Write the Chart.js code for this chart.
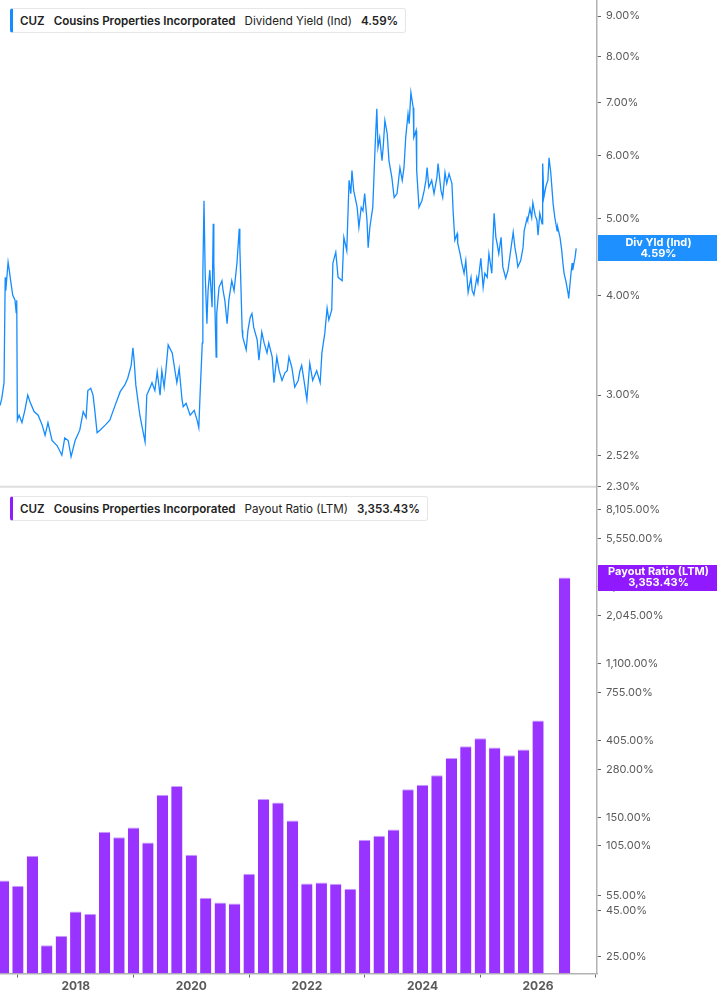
<!DOCTYPE html>
<html>
<head>
<meta charset="utf-8">
<script src="https://cdn.jsdelivr.net/npm/chart.js@4.4.1/dist/chart.umd.min.js"></script>
<style>
html,body{margin:0;padding:0;background:#fff;}
#wrap{position:relative;width:717px;height:1005px;overflow:hidden;background:#fff;}
#c{position:absolute;left:0;top:0;}
.legend{position:absolute;left:10px;height:25px;box-sizing:border-box;border:1px solid #e6e6e6;border-left:3px solid #148cff;border-radius:3px;background:#fff;font-family:Inter,'Noto Sans',sans-serif;font-size:11.6px;color:#222;display:flex;align-items:center;padding:0 7px 0 7px;white-space:nowrap;}
.legend span{margin-right:9px;}
.legend span:last-child{margin-right:0;}
.b{font-weight:600;}
</style>
</head>
<body>
<div id="wrap">
  <canvas id="c" width="717" height="1005" style="width:717px;height:1005px"></canvas>
  <div class="legend" id="legTop" style="top:8px;border-left-color:#148cff"></div>
  <div class="legend" id="legBot" style="top:496px;border-left-color:#8f1cff"></div>
</div>
<script>
// ---- texts ----
const ticker = 'CUZ';
const company = 'Cousins Properties Incorporated';
const yieldName = 'Dividend Yield (Ind)';
const yieldTag = 'Div Yld (Ind)';
const payoutName = 'Payout Ratio (LTM)';

// ---- tick labels ----
const yearTicks = [2018, 2020, 2022, 2024, 2026];
const yieldTicks = [2.30, 2.52, 3, 4, 5, 6, 7, 8, 9];
const payoutTicks = [25, 45, 55, 105, 150, 280, 405, 755, 1100, 2045, 2985, 5550, 8105];

// ---- dividend yield (%), dates as decimal years ----
const divDates = [
2016.69,2016.72,2016.76,2016.78,2016.79,2016.83,2016.85,2016.88,2016.91,2016.95,
2016.97,2016.98,2016.99,2017.02,2017.07,2017.12,2017.17,2017.21,2017.28,2017.35,
2017.42,2017.47,2017.52,2017.59,2017.68,2017.76,2017.81,2017.87,2017.92,2017.99,
2018.07,2018.13,2018.18,2018.21,2018.26,2018.30,2018.33,2018.37,2018.42,2018.51,
2018.59,2018.68,2018.77,2018.85,2018.90,2018.96,2018.99,2019.01,2019.04,2019.11,
2019.16,2019.20,2019.23,2019.29,2019.32,2019.37,2019.41,2019.46,2019.49,2019.53,
2019.56,2019.60,2019.67,2019.72,2019.75,2019.79,2019.84,2019.86,2019.91,2019.98,
2020.05,2020.10,2020.13,2020.15,2020.19,2020.20,2020.22,2020.24,2020.27,2020.29,
2020.32,2020.36,2020.38,2020.39,2020.43,2020.44,2020.48,2020.53,2020.55,2020.58,
2020.62,2020.65,2020.70,2020.74,2020.79,2020.83,2020.84,2020.88,2020.89,2020.95,
2020.98,2021.02,2021.05,2021.08,2021.14,2021.17,2021.22,2021.26,2021.31,2021.34,
2021.40,2021.43,2021.48,2021.52,2021.57,2021.62,2021.66,2021.69,2021.74,2021.79,
2021.85,2021.88,2021.91,2021.95,2022.00,2022.05,2022.10,2022.17,2022.23,2022.26,
2022.31,2022.35,2022.38,2022.43,2022.45,2022.50,2022.54,2022.61,2022.64,2022.69,
2022.73,2022.76,2022.78,2022.81,2022.87,2022.90,2022.94,2022.97,2023.00,2023.04,
2023.06,2023.09,2023.14,2023.18,2023.21,2023.23,2023.26,2023.30,2023.32,2023.35,
2023.39,2023.42,2023.47,2023.51,2023.56,2023.58,2023.61,2023.65,2023.68,2023.71,
2023.75,2023.77,2023.80,2023.84,2023.85,2023.89,2023.90,2023.94,2023.99,2024.03,
2024.06,2024.08,2024.11,2024.16,2024.20,2024.25,2024.27,2024.32,2024.35,2024.39,
2024.42,2024.46,2024.51,2024.53,2024.56,2024.60,2024.61,2024.65,2024.68,2024.72,
2024.75,2024.79,2024.84,2024.86,2024.89,2024.94,2024.96,2025.01,2025.05,2025.08,
2025.12,2025.15,2025.20,2025.22,2025.24,2025.27,2025.29,2025.32,2025.36,2025.39,
2025.44,2025.48,2025.51,2025.57,2025.60,2025.63,2025.65,2025.70,2025.74,2025.76,
2025.81,2025.82,2025.86,2025.89,2025.91,2025.95,2025.98,2026.00,2026.03,2026.07,
2026.08,2026.10,2026.14,2026.17,2026.19,2026.22,2026.26,2026.29,2026.33,2026.34,
2026.38,2026.41,2026.43,2026.45,2026.48,2026.52,2026.53,2026.57,2026.59,2026.60,2026.64,2026.66
];
const divYield = [
2.91,2.97,3.11,4.22,4.06,4.41,4.31,4.15,4.01,3.95,
3.81,3.95,2.79,2.83,2.77,2.87,3.00,2.94,2.86,2.83,
2.75,2.67,2.77,2.63,2.59,2.52,2.65,2.63,2.51,2.63,
2.71,2.86,2.81,3.04,3.06,3.00,2.87,2.69,2.71,2.75,
2.79,2.91,3.03,3.09,3.15,3.27,3.44,3.32,3.09,2.83,
2.71,2.62,3.00,3.07,3.11,3.04,3.21,3.00,3.22,3.07,
3.22,3.47,3.39,3.21,3.11,3.24,2.96,2.90,2.93,2.83,
2.87,2.79,2.73,2.98,3.49,4.27,5.27,4.27,3.69,4.06,
4.31,3.87,4.93,4.40,3.35,3.80,4.10,4.18,4.06,3.95,
3.69,3.95,4.18,4.06,4.40,4.86,4.60,3.62,3.55,3.42,
3.62,3.76,3.80,3.65,3.52,3.32,3.60,3.49,3.39,3.49,
3.35,3.11,3.35,3.22,3.13,3.20,3.22,3.35,3.25,3.07,
3.13,3.22,3.27,3.13,2.96,3.29,3.13,3.22,3.11,3.39,
3.59,3.86,3.73,3.84,4.40,4.54,4.22,4.18,4.74,4.56,
5.59,5.38,5.75,5.43,5.17,4.88,5.17,5.12,5.38,4.98,
4.60,4.88,5.17,6.15,6.88,6.15,6.33,5.92,6.15,6.65,
6.40,5.92,5.64,5.32,5.38,5.54,5.80,5.59,5.80,6.33,
6.78,6.59,7.21,6.90,6.33,6.46,5.75,5.17,5.27,5.43,
5.59,5.80,5.48,5.59,5.38,5.64,5.87,5.43,5.32,5.72,
5.54,5.70,5.54,5.12,4.70,4.79,4.66,4.52,4.40,4.27,
4.43,4.04,4.22,4.06,4.01,4.22,4.15,4.46,4.10,4.27,
4.22,4.52,4.27,4.70,5.08,4.74,4.66,4.52,4.74,4.35,
4.21,4.31,4.47,4.81,4.60,4.47,4.35,4.43,4.60,4.83,
5.01,4.98,5.15,5.02,5.24,5.05,4.98,4.77,5.08,4.93,
5.87,5.32,5.51,5.59,5.97,5.72,5.23,5.02,4.83,4.88,
4.74,4.56,4.40,4.27,4.18,4.03,3.97,4.27,4.40,4.31,4.47,4.59
];

// ---- payout ratio LTM (%), quarterly ----
const payDates = [
2016.75,2017.00,2017.25,2017.50,2017.75,2018.00,2018.25,2018.50,2018.75,2019.00,
2019.25,2019.50,2019.75,2020.00,2020.25,2020.50,2020.75,2021.00,2021.25,2021.50,
2021.75,2022.00,2022.25,2022.50,2022.75,2023.00,2023.25,2023.50,2023.75,2024.00,
2024.25,2024.50,2024.75,2025.00,2025.25,2025.50,2025.75,2026.00,2026.46
];
const payRatio = [
66.6,62.2,91.7,28.8,32.6,44.6,43.3,125.2,116.7,132.4,
109.0,202.2,226.0,93.0,53.3,50.1,49.5,72.7,191.0,182.9,
144.9,64.1,64.9,63.8,59.8,112.9,118.9,129.0,216.5,230.1,
259.5,324.8,377.8,419.2,371.5,336.3,362.2,527.3,3353.43
];

const pct = v => Number(v).toLocaleString('en-US', {minimumFractionDigits: 2, maximumFractionDigits: 2}) + '%';
const lastYield = divYield[divYield.length - 1];
const lastPayout = payRatio[payRatio.length - 1];

function fillLegend(id, parts) {
  const el = document.getElementById(id);
  parts.forEach(([t, bold]) => {
    const s = document.createElement('span');
    s.textContent = t;
    if (bold) s.className = 'b';
    el.appendChild(s);
  });
}
fillLegend('legTop', [[ticker, true], [company, true], [yieldName, false], [pct(lastYield), true]]);
fillLegend('legBot', [[ticker, true], [company, true], [payoutName, false], [pct(lastPayout), true]]);

const BLUE = '#148cff';
const PURPLE = '#9933ff';
const FONT = "Inter, 'Noto Sans', sans-serif";

function drawTag(ctx, x0, x1, cy, color, lines) {
  ctx.save();
  ctx.fillStyle = color;
  ctx.fillRect(x0, Math.round(cy - 13), x1 - x0, 26);
  ctx.fillStyle = '#fff';
  ctx.font = 'bold 11px ' + FONT;
  ctx.textAlign = 'center';
  ctx.textBaseline = 'middle';
  const cx = (x0 + x1) / 2 + 1;
  ctx.fillText(lines[0], cx, cy - 5.5);
  ctx.fillText(lines[1], cx, cy + 5.5);
  ctx.restore();
}

const overlay = {
  id: 'overlay',
  afterDraw(chart) {
    const ctx = chart.ctx, ca = chart.chartArea;
    const yT = chart.scales.yTop, yB = chart.scales.yBot;
    ctx.save();
    ctx.strokeStyle = '#dedede';
    ctx.lineWidth = 2;
    ctx.beginPath();
    ctx.moveTo(0, yB.top);
    ctx.lineTo(ca.right - 1, yB.top);
    ctx.stroke();
    ctx.restore();
    drawTag(ctx, ca.right + 1, chart.width, yT.getPixelForValue(lastYield), '#1e90ff', [yieldTag, pct(lastYield)]);
    drawTag(ctx, ca.right + 1, chart.width, yB.getPixelForValue(lastPayout), '#9019ff', [payoutName, pct(lastPayout)]);
  }
};

function setTicks(list) {
  return function (scale) { scale.ticks = list.map(v => ({value: v, major: false})); };
}
function noPad(scale) {
  scale.paddingTop = 0; scale.paddingBottom = 0;
  scale.paddingLeft = 0; scale.paddingRight = 0;
}

function yAxis(min, max, list) {
  return {
    type: 'logarithmic',
    position: 'right',
    stack: 'panes',
    stackWeight: 1,
    min: min,
    max: max,
    bounds: 'data',
    afterBuildTicks: setTicks(list),
    afterFit(scale) { scale.width = 120; noPad(scale); },
    grid: {drawOnChartArea: false, drawTicks: true, tickLength: 4, color: '#666', lineWidth: 1},
    border: {display: true, color: '#b3b3b3', width: 1.5},
    ticks: {
      autoSkip: false,
      padding: 5,
      color: '#5a5a5a',
      font: {family: FONT, size: 11},
      callback: v => pct(v)
    }
  };
}

function draw() {
  new Chart(document.getElementById('c'), {
    type: 'bar',
    data: {
      datasets: [
        {
          type: 'line',
          label: yieldName,
          yAxisID: 'yTop',
          xAxisID: 'x',
          data: divDates.map((d, i) => ({x: d, y: divYield[i]})),
          borderColor: BLUE,
          borderWidth: 1.3,
          pointRadius: 0,
          tension: 0,
          fill: false
        },
        {
          type: 'bar',
          label: payoutName,
          yAxisID: 'yBot',
          xAxisID: 'x',
          data: payDates.map((d, i) => ({x: d, y: payRatio[i]})),
          backgroundColor: PURPLE,
          borderColor: '#c8a2ff',
          borderWidth: {top: 1, left: 0, right: 0, bottom: 0},
          borderSkipped: 'bottom',
          categoryPercentage: 1,
          barPercentage: 0.78
        }
      ]
    },
    options: {
      responsive: false,
      animation: false,
      events: [],
      layout: {padding: 0},
      plugins: {legend: {display: false}, tooltip: {enabled: false}},
      scales: {
        x: {
          type: 'linear',
          position: 'bottom',
          min: 2016.69,
          max: 2027.02,
          offset: false,
          bounds: 'data',
          afterBuildTicks: setTicks(yearTicks),
          afterFit(scale) { scale.height = 31.5; noPad(scale); },
          grid: {drawOnChartArea: false, drawTicks: true, tickLength: 4, color: '#666', lineWidth: 1},
          border: {display: true, color: '#b3b3b3', width: 1.5},
          ticks: {
            autoSkip: false,
            maxRotation: 0,
            padding: 2,
            color: '#5a5a5a',
            font: {family: FONT, size: 12, weight: 'bold'},
            callback: v => String(v)
          }
        },
        yTop: yAxis(2.3, 9.43, yieldTicks),
        yBot: yAxis(20, 10850, payoutTicks)
      }
    },
    plugins: [overlay]
  });
}

if (document.fonts && document.fonts.load) {
  Promise.all([
    document.fonts.load('400 11px Inter'),
    document.fonts.load('700 11px Inter'),
    document.fonts.load('700 12px Inter'),
    document.fonts.load('600 12px Inter')
  ]).then(draw, draw);
} else {
  draw();
}
</script>
</body>
</html>
